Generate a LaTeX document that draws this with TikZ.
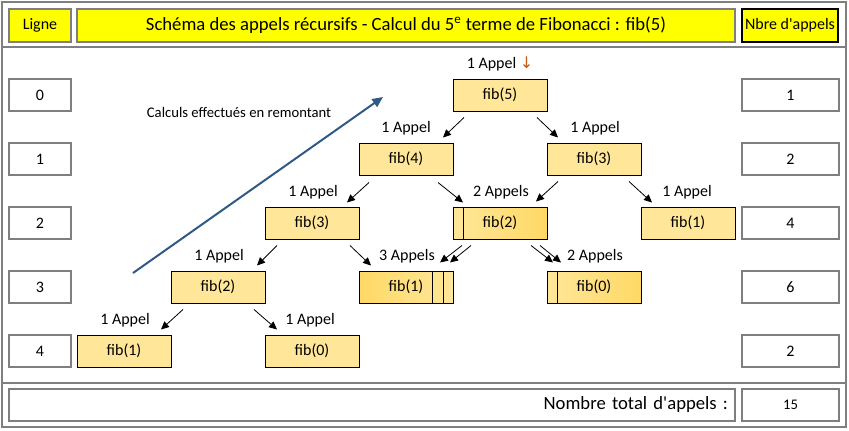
\documentclass[tikz,border=0pt]{standalone}
\usepackage{fontspec}
\setmainfont{Carlito}
\newfontfamily\symbfont{DejaVu Sans}
\usetikzlibrary{arrows.meta}

\definecolor{gridgray}{RGB}{127,127,127}
\definecolor{headyellow}{RGB}{255,255,0}
\definecolor{fibgold}{RGB}{255,230,153}
\definecolor{fibdark}{RGB}{255,217,102}
\definecolor{monteeblue}{RGB}{49,89,133}
\definecolor{flecheorange}{RGB}{197,90,17}

\tikzset{
	gridline/.style={draw=gridgray, line width=1pt},
	headbox/.style={draw=gridgray, fill=headyellow, line width=1pt, minimum height=24.75pt, inner sep=0pt, font=\fontsize{12}{14}\selectfont},
	cellbox/.style={draw=gridgray, line width=1pt, minimum width=46.5pt, minimum height=24pt, inner sep=0pt, font=\fontsize{12}{14}\selectfont},
	countbox/.style={cellbox, minimum width=72.75pt},
	fibbox/.style={draw=black, fill=fibgold, line width=0.75pt, minimum width=70.5pt, minimum height=24pt, inner sep=0pt, font=\fontsize{12}{14}\selectfont},
	fibline/.style={draw=black, line width=0.75pt},
	appel/.style={inner sep=0pt, font=\fontsize{12}{14}\selectfont},
	call/.style={-{Triangle[length=6pt,width=5.5pt]}, line width=0.6pt},
	montee/.style={-{Triangle[length=8pt,width=7pt]}, draw=monteeblue, line width=1.5pt}
}

\begin{document}
\begin{tikzpicture}[x=0.75pt,y=-0.75pt]
	\useasboundingbox (0,0) rectangle (849,430);
	
	% cadre
	\draw[gridline] (2,2) rectangle (846,427);
	\draw[gridline] (2,47) -- (846,47);
	\draw[gridline] (2,383) -- (846,383);
	
	% en-tete
	\node[headbox, minimum width=46.5pt] (ligne) at (40,25.5) {Ligne};
	\node[headbox, minimum width=493.5pt, font=\fontsize{14}{16}\selectfont] (titre) at (406,25.5)
		{Schéma des appels récursifs - Calcul du 5\textsuperscript{e} terme de Fibonacci : fib(5)};
	\node[headbox, draw=black, line width=1.3pt, minimum width=72pt] (nbre) at (790,25.5) {Nbre d\textquotesingle appels};
	
	% lignes et nombres d'appels
	\foreach \r/\y/\n in {0/95/1,1/159/2,2/223/4,3/287/6,4/351/2} {
		\node[cellbox] (ligne\r) at (40,\y) {\r};
		\node[countbox] (nb\r) at (790.5,\y) {\n};
	}
	
	% arbre des appels
	\node[fibbox] (fib5) at (500,95) {fib(5)};
	\node[fibbox] (fib4) at (406,159) {fib(4)};
	\node[fibbox] (fib3b) at (594,159) {fib(3)};
	\node[fibbox] (fib3a) at (312,223) {fib(3)};
	\node[fibbox, left color=fibgold, right color=fibdark] (fib2b) at (500,223) {fib(2)};
	\node[fibbox] (fib1c) at (688,223) {fib(1)};
	\node[fibbox] (fib2a) at (218,287) {fib(2)};
	\node[fibbox, left color=fibdark, right color=fibgold] (fib1b) at (406,287) {fib(1)};
	\node[fibbox, left color=fibgold, right color=fibdark] (fib0b) at (594,287) {fib(0)};
	\node[fibbox] (fib1a) at (124,351) {fib(1)};
	\node[fibbox] (fib0a) at (312,351) {fib(0)};
	
	\draw[fibline] ([xshift=8.25pt]fib2b.north west) -- ([xshift=8.25pt]fib2b.south west);
	\draw[fibline] ([xshift=-15.75pt]fib1b.north east) -- ([xshift=-15.75pt]fib1b.south east);
	\draw[fibline] ([xshift=-7.5pt]fib1b.north east) -- ([xshift=-7.5pt]fib1b.south east);
	\draw[fibline] ([xshift=8.25pt]fib0b.north west) -- ([xshift=8.25pt]fib0b.south west);
	
	% nombres d'appels
	\node[appel] (app5) at (500,64) {1 Appel {\symbfont\color{flecheorange}↓}};
	\node[appel] (app4) at (406,128) {1 Appel};
	\node[appel] (app3b) at (595,128) {1 Appel};
	\node[appel] (app3a) at (313,192) {1 Appel};
	\node[appel] (app2b) at (501,192) {2 Appels};
	\node[appel] (app1c) at (687,192) {1 Appel};
	\node[appel] (app2a) at (219,256) {1 Appel};
	\node[appel] (app1b) at (407,256) {3 Appels};
	\node[appel] (app0b) at (595,256) {2 Appels};
	\node[appel] (app1a) at (125,320) {1 Appel};
	\node[appel] (app0a) at (310,320) {1 Appel};
	
	% fleches d'appel
	\draw[call] ([shift={(-36,6)}]fib5.south) -- ([shift={(37,-5)}]fib4.north);
	\draw[call] ([shift={(37,6)}]fib5.south) -- ([shift={(-36,-5)}]fib3b.north);
	\draw[call] ([shift={(-37,7)}]fib4.south) -- ([shift={(35,-4)}]fib3a.north);
	\draw[call] ([shift={(32,7)}]fib4.south) -- ([shift={(-37,-4)}]fib2b.north);
	\draw[call] ([shift={(-36,6)}]fib3b.south) -- ([shift={(36,-5)}]fib2b.north);
	\draw[call] ([shift={(35,6)}]fib3b.south) -- ([shift={(-36,-4)}]fib1c.north);
	\draw[call] ([shift={(-35,6)}]fib3a.south) -- ([shift={(39,-5)}]fib2a.north);
	\draw[call] ([shift={(38,6)}]fib3a.south) -- ([shift={(-35,-5)}]fib1b.north);
	\draw[call] ([shift={(-38,6)}]fib2b.south) -- ([shift={(34,-8)}]fib1b.north);
	\draw[call] ([shift={(-29,6)}]fib2b.south) -- ([shift={(44,-8)}]fib1b.north);
	\draw[call] ([shift={(31,6)}]fib2b.south) -- ([shift={(-41,-8)}]fib0b.north);
	\draw[call] ([shift={(40,6)}]fib2b.south) -- ([shift={(-33,-8)}]fib0b.north);
	\draw[call] ([shift={(-35,6)}]fib2a.south) -- ([shift={(37,-5)}]fib1a.north);
	\draw[call] ([shift={(36,6)}]fib2a.south) -- ([shift={(-35,-5)}]fib0a.north);
	
	% remontee des calculs
	\coordinate (montee debut) at (133,273);
	\coordinate (montee fin) at (383,97);
	\draw[montee] (montee debut) -- (montee fin);
	\node[inner sep=0pt, font=\fontsize{11}{13}\selectfont] (calculs) at (239,112) {Calculs effectués en remontant};
	
	% total
	\node[cellbox, minimum width=544.5pt, inner xsep=5.25pt, text width=534pt, align=right, font=\fontsize{14}{16}\selectfont] (total) at (372,405) {Nombre total d\textquotesingle appels :};
	\node[countbox, font=\fontsize{11}{13}\selectfont] (nbtotal) at (790.5,405) {15};
\end{tikzpicture}
\end{document}
